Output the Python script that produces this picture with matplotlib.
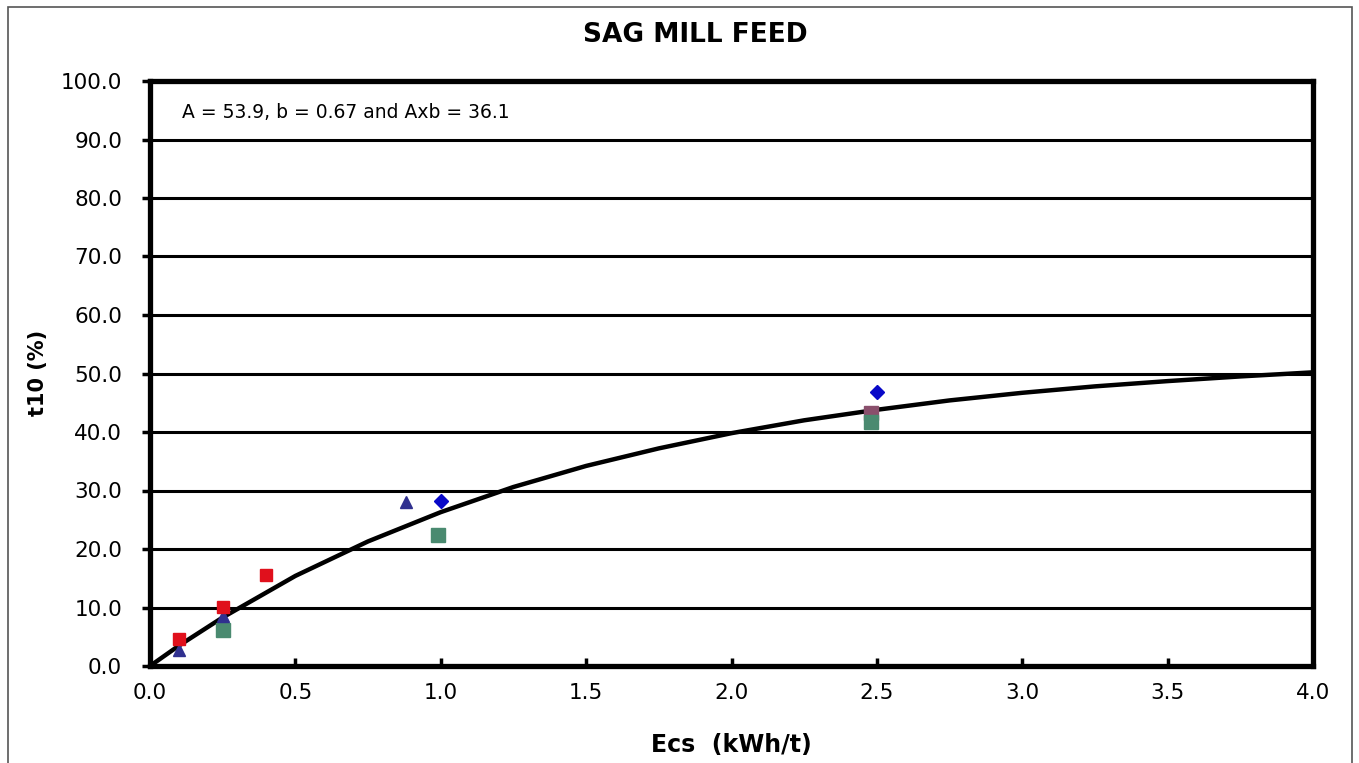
import numpy as np
import matplotlib
matplotlib.use("Agg")
import matplotlib.pyplot as plt
from matplotlib.patches import Rectangle

# fitted curve t10 = A(1 - exp(-b*Ecs))
curve_ecs = [0.0, 0.1, 0.25, 0.5, 0.75, 1.0, 1.25, 1.5, 1.75, 2.0,
             2.25, 2.5, 2.75, 3.0, 3.25, 3.5, 3.75, 4.0]
curve_t10 = [0.0, 3.5, 8.3, 15.4, 21.3, 26.3, 30.6, 34.2, 37.2, 39.8,
             42.0, 43.8, 45.4, 46.7, 47.8, 48.7, 49.5, 50.2]

# measured points, one list per size fraction
red_ecs = [0.10, 0.25, 0.40]
red_t10 = [4.6, 10.1, 15.5]
navy_ecs = [0.10, 0.25, 0.88]
navy_t10 = [2.8, 8.6, 28.0]
blue_ecs = [1.00, 2.50]
blue_t10 = [28.2, 46.8]
green_ecs = [0.25, 0.99, 2.48]
green_t10 = [6.2, 22.4, 41.7]
mauve_ecs = [2.48]
mauve_t10 = [43.3]

title = "SAG MILL FEED"
note = "A = 53.9, b = 0.67 and Axb = 36.1"

plt.rcParams['font.family'] = ['DejaVu Sans']

fig = plt.figure(figsize=(13.59, 7.63), dpi=100)
fig.patches.append(Rectangle((8 / 1359, -0.01), 1344 / 1359, 1 - 7 / 763 + 0.01,
                             transform=fig.transFigure, fill=False,
                             edgecolor="#555555", linewidth=1.2))

ax = fig.add_axes([150 / 1359, 1 - 666 / 763, 1163 / 1359, 585 / 763])

ax.set_xlim(0, 4)
ax.set_ylim(0, 100)
ax.set_xticks(np.arange(0, 4.01, 0.5))
ax.set_yticks(np.arange(0, 100.1, 10))
ax.set_xticklabels([f"{v:.1f}" for v in np.arange(0, 4.01, 0.5)])
ax.set_yticklabels([f"{v:.1f}" for v in np.arange(0, 100.1, 10)])

ax.yaxis.grid(True, color="black", linewidth=2.2)
ax.set_axisbelow(True)
for s in ax.spines.values():
    s.set_linewidth(3.8)
    s.set_color("black")

ax.tick_params(axis="x", direction="in", length=6, width=2.5, pad=12,
               labelsize=15.5)
ax.tick_params(axis="y", direction="out", length=6, width=2.5, pad=14,
               labelsize=15.5)

ax.plot(curve_ecs, curve_t10, color="black", linewidth=3.2, zorder=3)

ax.plot(mauve_ecs, mauve_t10, linestyle="none", marker="s", markersize=10,
        color="#8a4f6c", zorder=4)
ax.plot(green_ecs, green_t10, linestyle="none", marker="s", markersize=10,
        color="#4a8a70", zorder=4)
ax.plot(navy_ecs, navy_t10, linestyle="none", marker="^", markersize=9,
        color="#30308f", zorder=5)
ax.plot(red_ecs, red_t10, linestyle="none", marker="s", markersize=9,
        color="#e0101c", zorder=5)
ax.plot(blue_ecs, blue_t10, linestyle="none", marker="D", markersize=7.5,
        color="#0808c8", zorder=5)

ax.text(0.11, 94.7, note, fontsize=13.5, va="center", ha="left")

fig.text(695 / 1359, 1 - 35 / 763, title, fontsize=19, fontweight="bold",
         ha="center", va="center")
fig.text(731 / 1359, 1 - 745 / 763, "Ecs  (kWh/t)", fontsize=17,
         fontweight="bold", ha="center", va="center")
fig.text(38 / 1359, 1 - 373 / 763, "t10 (%)", fontsize=15, fontweight="bold",
         ha="center", va="center", rotation=90)

fig.savefig("out.png", dpi=100)
